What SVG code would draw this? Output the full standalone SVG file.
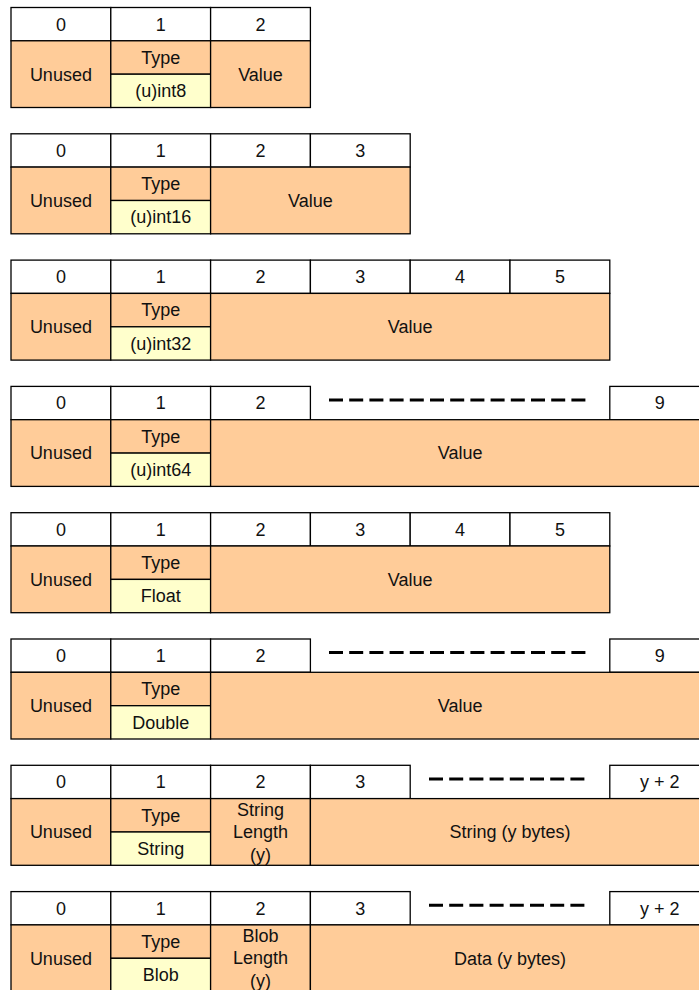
<svg xmlns="http://www.w3.org/2000/svg" width="699" height="990" viewBox="0 0 699 990">
<style>
.c{stroke:#000;stroke-width:1.3}
.h{fill:#fff}
.o{fill:#FFCC99}
.y{fill:#FFFFCC}
text{font-family:"Liberation Sans",Arial,sans-serif;font-size:18px;fill:#111;text-anchor:middle}
.d{stroke:#000;stroke-width:3;stroke-dasharray:14 6.2;fill:none}
</style>
<rect x="0" y="0" width="699" height="990" fill="#fff"/>

<g id="block-uint8" transform="translate(0,7.5)">
<rect class="c h" x="11" y="0" width="99.8" height="33.3"/><text x="60.9" y="23">0</text>
<rect class="c h" x="110.8" y="0" width="99.8" height="33.3"/><text x="160.7" y="23">1</text>
<rect class="c h" x="210.6" y="0" width="99.8" height="33.3"/><text x="260.5" y="23">2</text>
<rect class="c o" x="11" y="33.3" width="99.8" height="66.7"/><text x="60.9" y="73.1">Unused</text>
<rect class="c o" x="110.8" y="33.3" width="99.8" height="33.4"/><text x="160.7" y="56.4">Type</text>
<rect class="c y" x="110.8" y="66.7" width="99.8" height="33.3"/><text x="160.7" y="89.7">(u)int8</text>
<rect class="c o" x="210.6" y="33.3" width="99.8" height="66.7"/><text x="260.5" y="73.1">Value</text>
</g>

<g id="block-uint16" transform="translate(0,133.8)">
<rect class="c h" x="11" y="0" width="99.8" height="33.3"/><text x="60.9" y="23">0</text>
<rect class="c h" x="110.8" y="0" width="99.8" height="33.3"/><text x="160.7" y="23">1</text>
<rect class="c h" x="210.6" y="0" width="99.8" height="33.3"/><text x="260.5" y="23">2</text>
<rect class="c h" x="310.4" y="0" width="99.8" height="33.3"/><text x="360.3" y="23">3</text>
<rect class="c o" x="11" y="33.3" width="99.8" height="66.7"/><text x="60.9" y="73.1">Unused</text>
<rect class="c o" x="110.8" y="33.3" width="99.8" height="33.4"/><text x="160.7" y="56.4">Type</text>
<rect class="c y" x="110.8" y="66.7" width="99.8" height="33.3"/><text x="160.7" y="89.7">(u)int16</text>
<rect class="c o" x="210.6" y="33.3" width="199.6" height="66.7"/><text x="310.4" y="73.1">Value</text>
</g>

<g id="block-uint32" transform="translate(0,260.1)">
<rect class="c h" x="11" y="0" width="99.8" height="33.3"/><text x="60.9" y="23">0</text>
<rect class="c h" x="110.8" y="0" width="99.8" height="33.3"/><text x="160.7" y="23">1</text>
<rect class="c h" x="210.6" y="0" width="99.8" height="33.3"/><text x="260.5" y="23">2</text>
<rect class="c h" x="310.4" y="0" width="99.8" height="33.3"/><text x="360.3" y="23">3</text>
<rect class="c h" x="410.2" y="0" width="99.8" height="33.3"/><text x="460.1" y="23">4</text>
<rect class="c h" x="510" y="0" width="99.8" height="33.3"/><text x="559.9" y="23">5</text>
<rect class="c o" x="11" y="33.3" width="99.8" height="66.7"/><text x="60.9" y="73.1">Unused</text>
<rect class="c o" x="110.8" y="33.3" width="99.8" height="33.4"/><text x="160.7" y="56.4">Type</text>
<rect class="c y" x="110.8" y="66.7" width="99.8" height="33.3"/><text x="160.7" y="89.7">(u)int32</text>
<rect class="c o" x="210.6" y="33.3" width="399.2" height="66.7"/><text x="410.2" y="73.1">Value</text>
</g>

<g id="block-uint64" transform="translate(0,386.4)">
<rect class="c h" x="11" y="0" width="99.8" height="33.3"/><text x="60.9" y="23">0</text>
<rect class="c h" x="110.8" y="0" width="99.8" height="33.3"/><text x="160.7" y="23">1</text>
<rect class="c h" x="210.6" y="0" width="99.8" height="33.3"/><text x="260.5" y="23">2</text>
<line class="d" x1="329" y1="13.6" x2="587" y2="13.6"/>
<rect class="c h" x="609.8" y="0" width="99.8" height="33.3"/><text x="659.7" y="23">9</text>
<rect class="c o" x="11" y="33.3" width="99.8" height="66.7"/><text x="60.9" y="73.1">Unused</text>
<rect class="c o" x="110.8" y="33.3" width="99.8" height="33.4"/><text x="160.7" y="56.4">Type</text>
<rect class="c y" x="110.8" y="66.7" width="99.8" height="33.3"/><text x="160.7" y="89.7">(u)int64</text>
<rect class="c o" x="210.6" y="33.3" width="499" height="66.7"/><text x="460.1" y="73.1">Value</text>
</g>

<g id="block-float" transform="translate(0,512.7)">
<rect class="c h" x="11" y="0" width="99.8" height="33.3"/><text x="60.9" y="23">0</text>
<rect class="c h" x="110.8" y="0" width="99.8" height="33.3"/><text x="160.7" y="23">1</text>
<rect class="c h" x="210.6" y="0" width="99.8" height="33.3"/><text x="260.5" y="23">2</text>
<rect class="c h" x="310.4" y="0" width="99.8" height="33.3"/><text x="360.3" y="23">3</text>
<rect class="c h" x="410.2" y="0" width="99.8" height="33.3"/><text x="460.1" y="23">4</text>
<rect class="c h" x="510" y="0" width="99.8" height="33.3"/><text x="559.9" y="23">5</text>
<rect class="c o" x="11" y="33.3" width="99.8" height="66.7"/><text x="60.9" y="73.1">Unused</text>
<rect class="c o" x="110.8" y="33.3" width="99.8" height="33.4"/><text x="160.7" y="56.4">Type</text>
<rect class="c y" x="110.8" y="66.7" width="99.8" height="33.3"/><text x="160.7" y="89.7">Float</text>
<rect class="c o" x="210.6" y="33.3" width="399.2" height="66.7"/><text x="410.2" y="73.1">Value</text>
</g>

<g id="block-double" transform="translate(0,639)">
<rect class="c h" x="11" y="0" width="99.8" height="33.3"/><text x="60.9" y="23">0</text>
<rect class="c h" x="110.8" y="0" width="99.8" height="33.3"/><text x="160.7" y="23">1</text>
<rect class="c h" x="210.6" y="0" width="99.8" height="33.3"/><text x="260.5" y="23">2</text>
<line class="d" x1="329" y1="13.6" x2="587" y2="13.6"/>
<rect class="c h" x="609.8" y="0" width="99.8" height="33.3"/><text x="659.7" y="23">9</text>
<rect class="c o" x="11" y="33.3" width="99.8" height="66.7"/><text x="60.9" y="73.1">Unused</text>
<rect class="c o" x="110.8" y="33.3" width="99.8" height="33.4"/><text x="160.7" y="56.4">Type</text>
<rect class="c y" x="110.8" y="66.7" width="99.8" height="33.3"/><text x="160.7" y="89.7">Double</text>
<rect class="c o" x="210.6" y="33.3" width="499" height="66.7"/><text x="460.1" y="73.1">Value</text>
</g>

<g id="block-string" transform="translate(0,765.3)">
<rect class="c h" x="11" y="0" width="99.8" height="33.3"/><text x="60.9" y="23">0</text>
<rect class="c h" x="110.8" y="0" width="99.8" height="33.3"/><text x="160.7" y="23">1</text>
<rect class="c h" x="210.6" y="0" width="99.8" height="33.3"/><text x="260.5" y="23">2</text>
<rect class="c h" x="310.4" y="0" width="99.8" height="33.3"/><text x="360.3" y="23">3</text>
<line class="d" x1="429" y1="13.6" x2="585" y2="13.6"/>
<rect class="c h" x="609.8" y="0" width="99.8" height="33.3"/><text x="659.7" y="23">y + 2</text>
<rect class="c o" x="11" y="33.3" width="99.8" height="66.7"/><text x="60.9" y="73.1">Unused</text>
<rect class="c o" x="110.8" y="33.3" width="99.8" height="33.4"/><text x="160.7" y="56.4">Type</text>
<rect class="c y" x="110.8" y="66.7" width="99.8" height="33.3"/><text x="160.7" y="89.7">String</text>
<rect class="c o" x="210.6" y="33.3" width="99.8" height="66.7"/>
<text x="260.5" y="50.4">String</text><text x="260.5" y="72.8">Length</text><text x="260.5" y="95.4">(y)</text>
<rect class="c o" x="310.4" y="33.3" width="399.2" height="66.7"/><text x="510" y="73.1">String (y bytes)</text>
</g>

<g id="block-blob" transform="translate(0,891.6)">
<rect class="c h" x="11" y="0" width="99.8" height="33.3"/><text x="60.9" y="23">0</text>
<rect class="c h" x="110.8" y="0" width="99.8" height="33.3"/><text x="160.7" y="23">1</text>
<rect class="c h" x="210.6" y="0" width="99.8" height="33.3"/><text x="260.5" y="23">2</text>
<rect class="c h" x="310.4" y="0" width="99.8" height="33.3"/><text x="360.3" y="23">3</text>
<line class="d" x1="429" y1="13.6" x2="585" y2="13.6"/>
<rect class="c h" x="609.8" y="0" width="99.8" height="33.3"/><text x="659.7" y="23">y + 2</text>
<rect class="c o" x="11" y="33.3" width="99.8" height="66.7"/><text x="60.9" y="73.1">Unused</text>
<rect class="c o" x="110.8" y="33.3" width="99.8" height="33.4"/><text x="160.7" y="56.4">Type</text>
<rect class="c y" x="110.8" y="66.7" width="99.8" height="33.3"/><text x="160.7" y="89.7">Blob</text>
<rect class="c o" x="210.6" y="33.3" width="99.8" height="66.7"/>
<text x="260.5" y="50.4">Blob</text><text x="260.5" y="72.8">Length</text><text x="260.5" y="95.4">(y)</text>
<rect class="c o" x="310.4" y="33.3" width="399.2" height="66.7"/><text x="510" y="73.1">Data (y bytes)</text>
</g>
</svg>
